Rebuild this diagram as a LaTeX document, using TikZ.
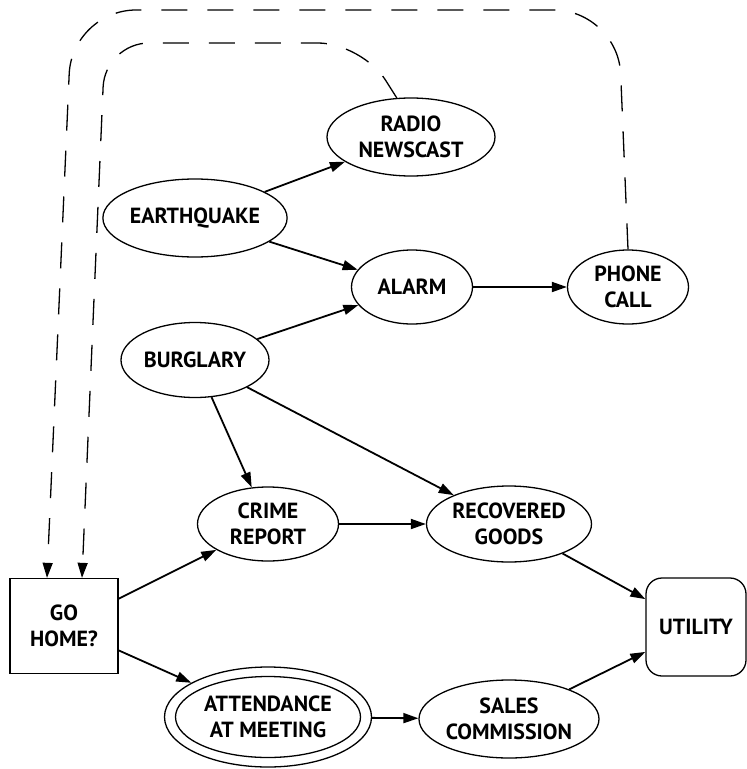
\documentclass[tikz,border=0pt]{standalone}
\usepackage{fontspec}
\setmainfont{PT Sans}
\newfontfamily\nodefont{PT Sans}[UprightFont={* Bold}]
\usepackage{tikz}
\usetikzlibrary{arrows.meta,positioning,calc,shapes.geometric}
\tikzset{
  lbl/.style={align=center,font=\nodefont\fontsize{11}{13}\selectfont,inner sep=0pt},
  chance/.style={lbl,ellipse,draw,line width=0.65pt},
  decision/.style={lbl,rectangle,draw,line width=0.65pt},
  utilitybox/.style={lbl,rectangle,rounded corners=8bp,draw,line width=0.65pt},
  arr/.style={-{Triangle[length=7.5bp,width=5bp]},line width=0.9pt},
  darr/.style={arr,line width=0.65pt,dash pattern=on 13bp off 10bp},
}
\begin{document}
\begin{tikzpicture}[x=0.5bp,y=-0.5bp]
  \useasboundingbox (0,0) rectangle (747,769);
  % chance nodes
  \node[chance,minimum width=84bp,minimum height=39bp] (quake) at (195,218) {EARTHQUAKE};
  \node[chance,minimum width=84bp,minimum height=39bp] (radio) at (411,137) {RADIO\\NEWSCAST};
  \node[chance,minimum width=60.5bp,minimum height=37bp] (alarm) at (412,287) {ALARM};
  \node[chance,minimum width=60.5bp,minimum height=37bp] (phone) at (628,287) {PHONE\\CALL};
  \node[chance,minimum width=74bp,minimum height=37.5bp] (burglary) at (195,360) {BURGLARY};
  \node[chance,minimum width=70.5bp,minimum height=37bp] (crime) at (268,524) {CRIME\\REPORT};
  \node[chance,minimum width=82.5bp,minimum height=38bp] (goods) at (509,524) {RECOVERED\\GOODS};
  \node[chance,minimum width=103.5bp,minimum height=50bp] (attend) at (268,717) {ATTENDANCE\\AT MEETING};
  \draw[line width=0.65pt] (attend.center) ellipse (46.25bp and 20.25bp);
  \node[chance,minimum width=90bp,minimum height=39bp] (sales) at (509,719) {SALES\\COMMISSION};
  % decision and utility
  \node[decision,minimum width=54bp,minimum height=47.5bp] (gohome) at (64,626) {GO\\HOME?};
  \node[utilitybox,minimum width=50bp,minimum height=49bp] (utility) at (696,627) {UTILITY};
  % solid arcs
  \draw[arr] (quake) -- (radio);
  \draw[arr] (quake) -- (alarm);
  \draw[arr] (burglary) -- (alarm);
  \draw[arr] (alarm) -- (phone);
  \draw[arr] (burglary) -- (crime);
  \draw[arr] (burglary) -- (goods);
  \draw[arr] (crime) -- (goods);
  \draw[arr] (gohome) -- (crime);
  \draw[arr] (gohome) -- (attend);
  \draw[arr] (attend) -- (sales);
  \draw[arr] (goods) -- (utility);
  \draw[arr] (sales) -- (utility);
  % information arcs
  \coordinate (in1) at ($(gohome.north)+(-17,0)$);
  \coordinate (in2) at ($(gohome.north)+(18,0)$);
  \draw[darr,rounded corners=32bp] (phone.north) -- (618,10) -- (72,10) -- (in1);
  \draw[darr,rounded corners=22bp] (radio.110) -- (362,43) -- (105,43) -- (in2);
\end{tikzpicture}
\end{document}
